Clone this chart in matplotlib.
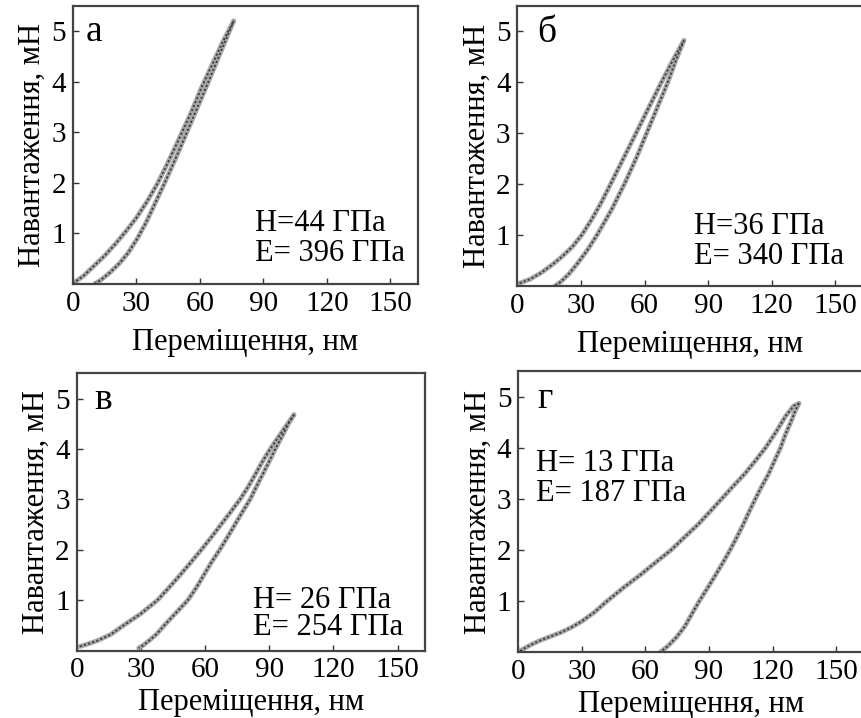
import matplotlib.pyplot as plt

plt.rcParams['font.family'] = ['Liberation Serif', 'DejaVu Serif']

# Навантаження/розвантаження для чотирьох зразків (x - нм, y - мН)
load_a_x = [0, 5, 10, 15, 20, 25, 30, 35, 40, 45, 50, 55.5, 61, 66, 71, 76]
load_a_y = [0, 0.15, 0.35, 0.55, 0.78, 1.03, 1.3, 1.62, 1.98, 2.4, 2.85, 3.35, 3.9, 4.35, 4.8, 5.2]
unload_a_x = [76, 70, 64.1, 59, 53.9, 48.8, 44, 39, 34.5, 30.3, 26, 22, 17.6, 13.5, 10.5]
unload_a_y = [5.2, 4.6, 4.0, 3.5, 3.0, 2.5, 2.05, 1.6, 1.2, 0.88, 0.6, 0.4, 0.22, 0.08, 0.0]

load_b_x = [1, 6, 11, 16, 21, 26, 30.4, 35, 39.5, 44, 50, 56, 62, 68, 73, 78.6]
load_b_y = [0.05, 0.13, 0.25, 0.4, 0.57, 0.77, 1.0, 1.3, 1.63, 2.0, 2.5, 3.0, 3.5, 4.0, 4.4, 4.82]
unload_b_x = [78.6, 75, 71, 66, 61, 56, 50.5, 44.5, 37.6, 33, 28, 24, 20.5, 17.8]
unload_b_y = [4.82, 4.45, 4.0, 3.5, 3.0, 2.5, 2.0, 1.5, 1.0, 0.7, 0.42, 0.22, 0.08, 0.0]

load_c_x = [1.5, 6, 10, 16, 22, 30, 37.8, 43, 48, 53, 58.3, 63, 67.5, 72, 76.4, 80.2, 83.6,
            87, 90.5, 96, 101.6]
load_c_y = [0.08, 0.14, 0.2, 0.32, 0.5, 0.73, 1.0, 1.24, 1.48, 1.73, 2.0, 2.25, 2.5, 2.75, 3.0,
            3.25, 3.5, 3.76, 4.0, 4.34, 4.68]
unload_c_x = [101.6, 99, 96, 92.9, 90, 87, 84, 81.1, 77.5, 74, 70.5, 66.9, 63, 59.5, 56, 52,
              46.5, 41, 37.5, 34, 31, 29]
unload_c_y = [4.68, 4.5, 4.25, 4.0, 3.75, 3.5, 3.25, 3.0, 2.75, 2.5, 2.25, 2.0, 1.75, 1.5, 1.25,
              1.0, 0.75, 0.5, 0.33, 0.2, 0.1, 0.05]

load_d_x = [0.8, 5, 10, 15, 20, 25, 30, 36, 42, 50, 57.9, 65, 72.2, 78.5, 84.9, 90.5, 96,
            101.5, 107.1, 112, 116.7, 121.5, 126.2, 130, 132.5]
load_d_y = [0.02, 0.12, 0.22, 0.3, 0.38, 0.48, 0.6, 0.78, 1.0, 1.27, 1.52, 1.76, 2.0, 2.25, 2.5,
            2.75, 3.0, 3.25, 3.5, 3.75, 4.0, 4.3, 4.62, 4.82, 4.87]
unload_d_x = [132.5, 130.5, 128.6, 126, 123.8, 121, 118.3, 115, 111.9, 109, 106.2, 103.2, 100,
              96.6, 93, 89.3, 85.5, 82, 78.6, 74.5, 70.5, 67.1]
unload_d_y = [4.87, 4.7, 4.5, 4.25, 4.0, 3.75, 3.5, 3.25, 3.0, 2.75, 2.5, 2.25, 2.0, 1.75, 1.5,
              1.25, 1.0, 0.75, 0.5, 0.28, 0.11, 0.0]

letters = ['а', 'б', 'в', 'г']
h_labels = ['Н=44 ГПа', 'Н=36 ГПа', 'Н= 26 ГПа', 'Н= 13 ГПа']
e_labels = ['Е= 396 ГПа', 'Е= 340 ГПа', 'Е= 254 ГПа', 'Е= 187 ГПа']

x_ticks = [0, 30, 60, 90, 120, 150]
y_ticks = [1, 2, 3, 4, 5]

curves = [
    (load_a_x, load_a_y, unload_a_x, unload_a_y),
    (load_b_x, load_b_y, unload_b_x, unload_b_y),
    (load_c_x, load_c_y, unload_c_x, unload_c_y),
    (load_d_x, load_d_y, unload_d_x, unload_d_y),
]

# розміщення осей у частках фігури
boxes = [
    [0.0845, 0.605, 0.401, 0.387],
    [0.601, 0.602, 0.401, 0.390],
    [0.089, 0.094, 0.405, 0.386],
    [0.602, 0.092, 0.401, 0.391],
]
xlabel_pad = [8, 8, 3, 4]
letter_pos = [(0.06, 0.905), (0.085, 0.905), (0.077, 0.903), (0.078, 0.903)]
text_pos = [(0.528, 0.218, 0.11), (0.512, 0.211, 0.104),
            (0.507, 0.18, 0.084), (0.052, 0.671, 0.564)]

fig = plt.figure(figsize=(8.61, 7.18), dpi=100)

for i in range(4):
    ax = fig.add_axes(boxes[i])
    lx, ly, ux, uy = curves[i]
    for xs, ys in [(lx, ly), (ux, uy)]:
        ax.plot(xs, ys, color='#a6a6a6', lw=3.4, solid_capstyle='round',
                solid_joinstyle='round', zorder=2)
        ax.plot(xs, ys, color='#3c3c3c', lw=1.3, ls=(0, (1.2, 1.2)), zorder=3)

    ax.set_xlim(0, 163)
    ax.set_ylim(0, 5.5)
    ax.set_xticks(x_ticks)
    ax.set_yticks(y_ticks)
    ax.tick_params(direction='in', length=4, width=1, colors='#333333',
                   labelsize=21, labelcolor='black')
    ax.tick_params(axis='x', pad=5)
    ax.tick_params(axis='y', pad=5)
    for s in ax.spines.values():
        s.set_linewidth(1.6)
        s.set_color('#444444')

    ax.set_xlabel('Переміщення, нм', fontsize=22, labelpad=xlabel_pad[i])
    ax.set_ylabel('Навантаження, мН', fontsize=22, labelpad=3)

    ax.text(letter_pos[i][0], letter_pos[i][1], letters[i], transform=ax.transAxes,
            fontsize=27, ha='center', va='center')
    tx, ty1, ty2 = text_pos[i]
    ax.text(tx, ty1, h_labels[i], transform=ax.transAxes,
            fontsize=22, ha='left', va='center')
    ax.text(tx, ty2, e_labels[i], transform=ax.transAxes,
            fontsize=22, ha='left', va='center')

fig.savefig('out.png', dpi=100)
